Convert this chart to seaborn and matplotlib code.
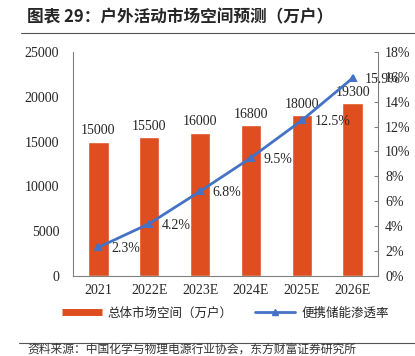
import matplotlib
matplotlib.use("Agg")
import numpy as np
import seaborn as sns
from matplotlib import pyplot as plt
from matplotlib.lines import Line2D
from matplotlib.ticker import FuncFormatter, FixedLocator

years = ["2021", "2022E", "2023E", "2024E", "2025E", "2026E"]
market_size = [15000, 15500, 16000, 16800, 18000, 19300]
penetration = [2.3, 4.2, 6.8, 9.5, 12.5, 15.9]
rate_labels = ["2.3%", "4.2%", "6.8%", "9.5%", "12.5%", "15.9%"]

bar_color = "#DF4E1E"
line_color = "#4472C4"
spine_color = "#808080"

sns.set_style("white")
plt.rcParams['font.family'] = ['Liberation Serif', 'Noto Sans CJK SC', 'DejaVu Sans']
cjk = ['Noto Sans CJK SC', 'DejaVu Sans']

fig = plt.figure(figsize=(4.15, 3.56), dpi=100)
ax = fig.add_axes([0.176, 0.225, 0.735, 0.629])

# 柱状图：总体市场空间
sns.barplot(x=years, y=market_size, color=bar_color, width=0.4, saturation=1, ax=ax)
for i, v in enumerate(market_size):
    ax.annotate(str(v), (i, v), xytext=(0, 3), textcoords="offset points",
                ha="center", va="bottom", fontsize=10)
ax.set_ylim(0, 25000)
ax.set_yticks(np.arange(0, 25001, 5000))
ax.set_xlim(-0.5, 5.5)
ax.tick_params(axis="y", length=0, labelsize=10, pad=10)
ax.tick_params(axis="x", length=0, labelsize=10, pad=6)
ax.xaxis.set_minor_locator(FixedLocator(np.arange(0.5, 5.5, 1)))
ax.tick_params(axis="x", which="minor", direction="in", length=3, color=spine_color)
for s in ["top", "right"]:
    ax.spines[s].set_visible(False)
for s in ["left", "bottom"]:
    ax.spines[s].set_color(spine_color)
    ax.spines[s].set_linewidth(0.8)
ax.set_ylabel("")

# 折线：便携储能渗透率
ax2 = ax.twinx()
sns.pointplot(x=years, y=penetration, color=line_color, markers="^",
              markersize=4, linewidth=2, ax=ax2)
for i, (v, t) in enumerate(zip(penetration, rate_labels)):
    ax2.annotate(t, (i, v), xytext=(9, -1), textcoords="offset points",
                 ha="left", va="center", fontsize=10)
ax2.set_ylim(0, 18)
ax2.set_yticks(np.arange(0, 19, 2))
ax2.yaxis.set_major_formatter(FuncFormatter(lambda v, p: f"{v:.0f}%"))
ax2.tick_params(axis="y", direction="in", length=3, color=spine_color, labelsize=10, pad=5)
ax2.set_xlim(-0.5, 5.5)
for s in ["top", "left", "bottom"]:
    ax2.spines[s].set_visible(False)
ax2.spines["right"].set_color(spine_color)
ax2.spines["right"].set_linewidth(0.8)
ax2.set_ylabel("")

handles = [Line2D([0], [0], color=bar_color, lw=5, solid_capstyle="butt"),
           Line2D([0], [0], color=line_color, lw=2, marker="^", markersize=4)]
fig.legend(handles, ["总体市场空间（万户）", "便携储能渗透率"], loc="center",
           bbox_to_anchor=(0.543, 0.12), ncol=2, frameon=False, columnspacing=1.8,
           handlelength=3.2, handletextpad=0.5, prop={'family': cjk, 'size': 9})

fig.text(0.065, 0.952, "图表 29：户外活动市场空间预测（万户）", fontsize=12,
         fontweight="bold", family=cjk, va="center")
fig.add_artist(Line2D([0.05, 1.0], [0.907, 0.907], color="#555555", lw=0.8))
fig.add_artist(Line2D([0.045, 1.0], [0.036, 0.036], color="#555555", lw=0.8))
fig.text(0.065, 0.002, "资料来源：中国化学与物理电源行业协会，东方财富证券研究所",
         fontsize=8.5, family=cjk, color="#333333", va="bottom")

fig.savefig("out.png", dpi=100)
